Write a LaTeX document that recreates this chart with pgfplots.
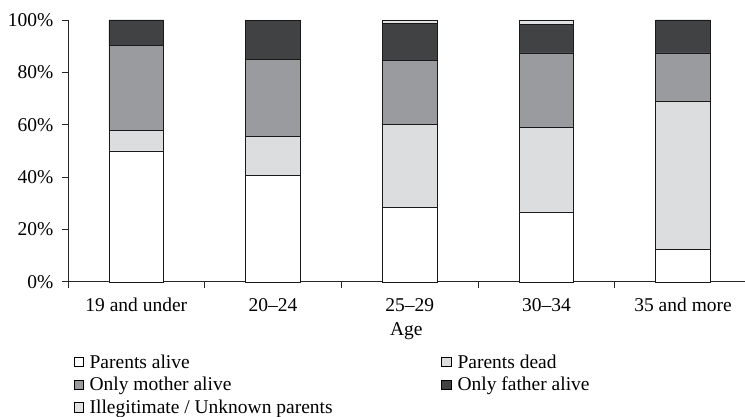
\documentclass[border=0pt]{standalone}
\usepackage{pgfplots}
\pgfplotsset{compat=1.18}
\usepackage{fontspec}
\setmainfont{Liberation Serif}
\definecolor{cAlive}{HTML}{FFFFFF}
\definecolor{cDead}{HTML}{DCDDDF}
\definecolor{cMother}{HTML}{9A9B9F}
\definecolor{cFather}{HTML}{414244}
\definecolor{cIlleg}{HTML}{E0E1E3}
\newcommand\cf{\fontsize{19.5bp}{22bp}\selectfont}
\begin{document}
\begin{tikzpicture}
\begin{axis}[
  scale only axis,
  width=677bp, height=262bp,
  xmin=-0.5, xmax=4.45,
  ymin=0, ymax=100,
  ybar stacked,
  bar width=0.4,
  axis x line*=bottom,
  axis y line*=left,
  axis line style={-, line width=0.8bp, black!85},
  xtick={0,1,2,3,4},
  xticklabels={19 and under,20--24,25--29,30--34,35 and more},
  major x tick style={draw=none},
  minor xtick={-0.5,0.5,1.5,2.5,3.5},
  minor x tick style={black!85, line width=0.8bp},
  minor tick length=6bp,
  ytick={0,20,...,100},
  yticklabel={\pgfmathprintnumber{\tick}\%},
  y tick style={black!85, line width=0.8bp},
  major tick length=6bp,
  tick align=outside,
  /pgf/number format/assume math mode=true,
  tick label style={font=\cf},
  xticklabel style={yshift=-7bp},
  yticklabel style={xshift=-5bp},
  xlabel={Age},
  xlabel style={font=\cf, yshift=-4bp},
  every axis plot/.append style={draw=black!90, line width=0.7bp},
  legend columns=2,
  legend cell align=left,
  legend style={draw=none, fill=none, font=\cf, at={(rel axis cs:0.008,-0.27)}, anchor=north west,
    row sep=3.5bp, inner sep=0pt,
    /tikz/every odd column/.append style={column sep=4bp}},
  legend image code/.code={\draw[#1, draw=black, line width=0.6bp] (0bp,-4.5bp) rectangle (9.5bp,5bp);},
  clip=false,
]
\addplot[fill=cAlive] coordinates {(0,50) (1,40.6) (2,28.4) (3,26.7) (4,12.5)};
\addlegendentry{\makebox[350bp][l]{Parents alive}}
\addplot[fill=cDead] coordinates {(0,7.9) (1,14.9) (2,31.6) (3,32.3) (4,56.3)};
\addlegendentry{Parents dead}
\addplot[fill=cMother] coordinates {(0,32.4) (1,29.4) (2,24.5) (3,28.4) (4,18.6)};
\addlegendentry{\makebox[350bp][l]{Only mother alive}}
\addplot[fill=cFather] coordinates {(0,9.7) (1,15.0) (2,14.2) (3,10.9) (4,12.6)};
\addlegendentry{Only father alive}
\addplot[fill=cIlleg] coordinates {(0,0) (1,0.1) (2,1.3) (3,1.7) (4,0)};
\addlegendentry{\makebox[350bp][l]{Illegitimate / Unknown parents}}
\coordinate (sw) at (rel axis cs:0,0);
\coordinate (ne) at (rel axis cs:1,1);
\end{axis}
\path ([shift={(-68bp,-133bp)}]sw) rectangle ([shift={(0bp,20bp)}]ne);
\end{tikzpicture}
\end{document}
